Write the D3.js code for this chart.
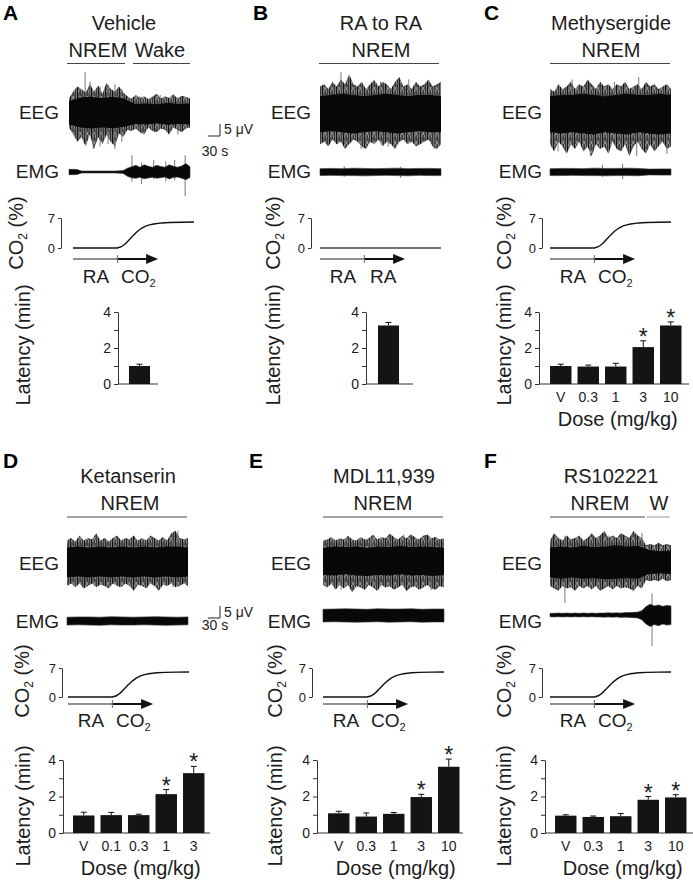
<!DOCTYPE html>
<html><head><meta charset="utf-8">
<script src="https://cdnjs.cloudflare.com/ajax/libs/d3/7.8.5/d3.min.js"></script>
<style>
html,body{margin:0;padding:0;background:#fff;}
svg{display:block;}
text{font-family:"Liberation Sans",Arial,Helvetica,sans-serif;fill:#1c1c1c;}
</style></head><body>
<svg id="fig" width="693" height="882">
  <defs>
    <pattern id="eegTex" width="7" height="9" patternUnits="userSpaceOnUse">
      <rect width="7" height="9" fill="#8c8c8c"/>
      <rect x="0" y="0" width="1" height="9" fill="#111"/>
      <rect x="1.4" y="2" width="0.8" height="7" fill="#3a3a3a"/>
      <rect x="2.6" y="0" width="1.1" height="6" fill="#1a1a1a"/>
      <rect x="4.1" y="3" width="0.7" height="6" fill="#444"/>
      <rect x="5.2" y="0" width="1" height="9" fill="#222"/>
    </pattern>
  </defs>
</svg>
<script>
// ================= DATA =================
const traceSeconds = [0, 300];
const switchTime = 110;          // RA -> CO2 switch (s)
const arrowEndTime = 211;
const co2Time = [0, 110, 120, 130, 140, 150, 160, 170, 180, 190, 200, 220, 240, 270, 300];
const co2Pct  = [0, 0, 0.3, 1.0, 2.0, 3.0, 3.9, 4.6, 5.1, 5.4, 5.6, 5.85, 5.95, 6.0, 6.05];
const co2TimeRA = [0, 300];
const co2PctRA  = [0, 0];
const co2Ticks = [0, 7];
const latencyTicks = [0, 1, 2, 3, 4];
const latencyTickLabels = ["0", "", "2", "", "4"];
const scaleBarUV = 5, scaleBarSec = 30;

// Latency (min): mean, SEM, significance
const doseA = ["V"];                       const latA = [1.0];  const semA = [0.10]; const sigA = [0];
const doseB = ["V"];                       const latB = [3.25]; const semB = [0.17]; const sigB = [0];
const doseC = ["V", "0.3", "1", "3", "10"]; const latC = [1.0, 0.97, 0.97, 2.05, 3.25]; const semC = [0.10, 0.08, 0.18, 0.35, 0.20]; const sigC = [0, 0, 0, 1, 1];
const doseD = ["V", "0.1", "0.3", "1", "3"]; const latD = [0.96, 0.98, 0.98, 2.13, 3.28]; const semD = [0.18, 0.15, 0.05, 0.25, 0.37]; const sigD = [0, 0, 0, 1, 1];
const doseE = ["V", "0.3", "1", "3", "10"]; const latE = [1.08, 0.90, 1.05, 1.97, 3.63]; const semE = [0.11, 0.20, 0.07, 0.15, 0.42]; const sigE = [0, 0, 0, 1, 1];
const doseF = ["V", "0.3", "1", "3", "10"]; const latF = [0.95, 0.88, 0.92, 1.82, 1.95]; const semF = [0.05, 0.05, 0.15, 0.18, 0.15]; const sigF = [0, 0, 0, 1, 1];

// EEG envelopes (µV), evenly spaced over the 300 s trace
const eegA_outTop = [6, 9, 11, 10, 8.5, 12, 9, 11.5, 8, 12.5, 10, 9, 11, 8.5, 7, 6, 7.5, 6.2, 7, 5.8, 6.8, 8, 6, 7, 6.3, 7.8, 6, 7.2, 6.8, 6];
const eegA_outBot = [6, 9, 12, 10, 14, 9, 15, 10, 13, 9, 12, 14, 8.5, 10, 7, 7.5, 6.5, 8, 9, 6, 7.5, 8, 6.5, 7, 9, 6, 7, 8, 6.5, 6];
const eegA_inTop  = [5.0, 6.5, 6.8, 6.2, 6.8, 6.0, 3.8, 4.0, 3.6, 4.2, 3.8, 4.0];
const eegA_inBot  = [4.8, 6.0, 6.5, 6.0, 6.4, 5.8, 4.6, 4.8, 4.4, 4.9, 4.6, 4.8];
const eegA_spikes = [[40, 17, 11], [52, 13, 8], [60, 9, 15], [77, 11, 14], [97, 10, 13], [114, 12, 15], [131, 10, 12], [176, 7, 8], [226, 7.5, 6.5], [270, 6.5, 9]];

const eegB_outTop = [11, 12, 10, 13, 11, 14, 12, 16, 12, 11, 13, 10, 12, 14, 11, 13, 12, 10, 13, 15, 11, 12, 10, 13, 11, 12, 14, 11, 12, 13];
const eegB_outBot = [13, 12, 14, 11, 13, 12, 15, 13, 11, 12, 14, 15, 12, 13, 11, 14, 12, 13, 15, 12, 11, 13, 12, 14, 13, 12, 11, 14, 15, 13];
const eegB_inTop  = [7, 7.5, 8, 7.5, 7, 7.5, 8, 7.5, 7, 7.5, 7.5, 7];
const eegB_inBot  = [8, 7.5, 8, 8.5, 8, 7.5, 8, 8.5, 8, 7.5, 8, 8];
const eegB_spikes = [[52, 17, 6], [102, 8, 15], [150, 13, 10], [169, 9, 14], [220, 14, 9], [283, 11, 15]];

const eegC_outTop = [10, 9, 12, 10, 11, 13, 10, 12, 11, 14, 12, 10, 13, 11, 12, 10, 12, 11, 13, 10, 11, 12, 10, 13, 11, 12, 10, 11, 12, 10];
const eegC_outBot = [13, 16, 12, 14, 17, 13, 15, 12, 16, 14, 18, 13, 15, 14, 17, 12, 15, 16, 13, 18, 14, 12, 15, 17, 13, 16, 14, 12, 15, 14];
const eegC_inTop  = [7, 7.5, 7.5, 8, 7.5, 7, 7.5, 8, 7.5, 7.5, 8, 7.5];
const eegC_inBot  = [8, 8.5, 8, 8.5, 9, 8, 8.5, 9, 8, 8.5, 9, 8.5];
const eegC_spikes = [[20, 8, 16], [55, 14, 9], [100, 9, 18], [160, 13, 11], [215, 10, 18], [220, 15, 8], [290, 11, 17]];

const eegD_outTop = [9, 10, 8.5, 11, 9, 10, 9.5, 12, 9, 10, 8.5, 10, 11, 9, 10, 9.5, 11, 9, 10, 9, 11, 10, 9, 10.5, 9, 12, 13, 10, 9.5, 10];
const eegD_outBot = [10, 9, 10.5, 9, 11, 10, 9, 10.5, 9.5, 10, 11, 9, 10, 10.5, 9, 10, 12, 9.5, 10, 11, 9, 10, 12, 9.5, 10, 9, 10.5, 10, 9, 10];
const eegD_inTop  = [6, 6.5, 6, 6.5, 6, 6.5, 6, 6.5, 6, 6.5, 6.5, 6];
const eegD_inBot  = [6.5, 6, 6.5, 6, 6.5, 6, 6.5, 6, 6.5, 6, 6.5, 6];
const eegD_spikes = [[20, 7, 10], [94, 10, 7], [150, 9, 8], [263, 8, 10.5], [275, 13, 6]];

const eegE_outTop = [8.5, 9, 10, 8.5, 9.5, 9, 10.5, 9, 8.5, 10, 9, 9.5, 11, 9, 10, 9.5, 11.5, 10, 9, 10.5, 9.5, 11, 10, 9, 10.5, 11, 9.5, 10, 9, 9.5];
const eegE_outBot = [10, 11, 9.5, 12, 10, 11.5, 10, 13, 10.5, 11, 12, 10, 11, 12.5, 10, 11, 10.5, 12, 11, 10, 12.5, 11, 10.5, 12, 11, 10, 11.5, 12, 10.5, 11];
const eegE_inTop  = [5.5, 6, 5.8, 6, 5.5, 6, 5.8, 6.2, 5.8, 6, 5.8, 5.5];
const eegE_inBot  = [5.8, 6, 5.5, 6, 6.2, 5.8, 6, 5.5, 6, 5.8, 6.2, 5.8];
const eegE_spikes = [[45, 8, 12], [120, 10, 9], [200, 11, 8], [268, 9, 12]];

const eegF_outTop = [9, 12, 10, 9, 11, 9.5, 10, 11, 9, 10, 12, 10, 11, 13, 10, 11, 10, 12, 11, 10, 13, 11, 10, 7, 7.5, 7, 8, 7, 7.5, 7];
const eegF_outBot = [10, 11, 12, 10, 11, 10.5, 12, 10, 11, 10, 11.5, 10, 12, 11, 10, 11.5, 10, 11, 10.5, 11, 12, 10, 11, 7.5, 8, 7.5, 8, 7, 8, 7.5];
const eegF_inTop  = [6, 6.5, 6, 6.8, 6.2, 6.5, 7, 6.5, 6.8, 5, 4.5, 4.8];
const eegF_inBot  = [6.5, 7, 6.5, 7, 6.8, 7.2, 7, 6.8, 7, 5, 4.8, 5];
const eegF_spikes = [[37, 11, 17], [100, 9, 10], [146, 11, 8], [228, 12, 9]];

// EMG envelopes (µV)
const emgA_top = [1.1, 1.1, 1.0, 0.4, 0.4, 0.4, 0.4, 0.4, 0.4, 0.4, 0.4, 0.4, 0.5, 0.6, 1.6, 2.2, 2.8, 2.0, 3.0, 2.4, 2.0, 2.8, 2.3, 2.0, 3.0, 2.4, 2.0, 2.5, 3.5, 2.2];
const emgA_bot = [1.1, 1.1, 1.0, 0.4, 0.4, 0.4, 0.4, 0.4, 0.4, 0.4, 0.4, 0.4, 0.5, 0.6, 1.8, 2.4, 2.6, 2.2, 2.8, 2.5, 2.2, 2.6, 2.4, 2.1, 2.9, 2.3, 2.1, 2.6, 3.2, 2.3];
const emgA_spikes = [[156, 7, 4], [180, 4, 5], [210, 5, 3], [240, 4.5, 4], [262, 5, 3.5], [288, 7, 10]];
const emgB_top = [1.4, 1.5, 1.4, 1.6, 1.5, 1.4, 1.5, 1.6, 1.4, 1.5, 1.5, 1.4];
const emgB_bot = [1.5, 1.4, 1.5, 1.5, 1.6, 1.5, 1.4, 1.5, 1.6, 1.4, 1.5, 1.5];
const emgB_spikes = [[60, 2.5, 2], [200, 2.2, 2.5]];
const emgC_top = [1.4, 1.5, 1.5, 1.4, 1.6, 1.5, 1.5, 1.6, 1.5, 1.2, 1.3, 1.3];
const emgC_bot = [1.5, 1.5, 1.4, 1.5, 1.5, 1.6, 1.5, 1.5, 1.6, 1.2, 1.3, 1.3];
const emgC_spikes = [[130, 3, 2], [180, 3.5, 3]];
const emgD_top = [1.6, 1.7, 1.7, 1.6, 1.8, 1.7, 1.6, 1.7, 1.8, 1.7, 1.6, 1.7];
const emgD_bot = [1.7, 1.6, 1.7, 1.8, 1.6, 1.7, 1.7, 1.6, 1.7, 1.8, 1.7, 1.6];
const emgD_spikes = [];
const emgE_top = [2.6, 2.7, 2.8, 2.7, 2.6, 2.8, 2.7, 2.7, 2.8, 2.6, 2.7, 2.7];
const emgE_bot = [2.7, 2.6, 2.7, 2.8, 2.7, 2.6, 2.8, 2.7, 2.6, 2.8, 2.7, 2.7];
const emgE_spikes = [];
const emgF_top = [0.7, 0.7, 0.8, 0.7, 0.8, 0.7, 0.8, 0.7, 0.8, 0.7, 0.8, 0.7, 0.8, 0.8, 0.9, 0.8, 0.9, 0.8, 1.0, 1.0, 1.1, 1.2, 1.8, 3.5, 4.5, 3.8, 4.2, 3.6, 4.0, 3.8];
const emgF_bot = [0.7, 0.8, 0.7, 0.8, 0.7, 0.8, 0.7, 0.8, 0.7, 0.8, 0.7, 0.8, 0.8, 0.9, 0.8, 0.9, 0.8, 1.0, 0.9, 1.0, 1.1, 1.2, 2.0, 3.8, 4.8, 4.0, 4.5, 3.8, 4.2, 4.0];
const emgF_spikes = [[253, 9, 13]];

// ================= LAYOUT =================
const K = 2.4;               // px per µV
const TW = 121;              // trace width px
const rows = [
  {letterY: 20, titleY: 30, stateY: 57, lineY: 63.5, eegLabelY: 119, emgLabelY: 178, co2Y0: 248, co2Y7: 218, co2LabelY: 233,
   arrowY: 259, raY: 283, barY0: 384, barY4: 312, tickLabelY: 402, doseY: 426, latLabelY: 345},
  {letterY: 468, titleY: 483, stateY: 510, lineY: 517, eegLabelY: 570, emgLabelY: 628, co2Y0: 697, co2Y7: 668, co2LabelY: 681,
   arrowY: 704, raY: 727, barY0: 833, barY4: 760, tickLabelY: 851, doseY: 875, latLabelY: 806}
];

const panels = [
  {letter: "A", row: 0, letterX: 3, title: "Vehicle", titleX: 124,
   states: [{label: "NREM", cx: 98, x0: 67, x1: 125}, {label: "Wake", cx: 160, x0: 133, x1: 190}],
   labelEnd: 59, x0: 69, cx0: 73, eegY: 113, emgY: 172, co2AxisX: 61, co2LabelX: 23, latLabelX: 30,
   band: [126, 153], barAxis: [118, 158], dose: doseA, lat: latA, sem: semA, sig: sigA, showDose: false, gas: "CO2",
   eeg: [eegA_outTop, eegA_outBot, eegA_inTop, eegA_inBot, eegA_spikes], emg: [emgA_top, emgA_bot, emgA_spikes], scaleBar: [220, 136, 134, 156]},
  {letter: "B", row: 0, letterX: 253, title: "RA to RA", titleX: 381,
   states: [{label: "NREM", cx: 381, x0: 319, x1: 439}],
   labelEnd: 311, x0: 320, cx0: 320, eegY: 113, emgY: 172, co2AxisX: 311, co2LabelX: 280, latLabelX: 280,
   band: [375, 402], barAxis: [366, 413], dose: doseB, lat: latB, sem: semB, sig: sigB, showDose: false, gas: "RA",
   eeg: [eegB_outTop, eegB_outBot, eegB_inTop, eegB_inBot, eegB_spikes], emg: [emgB_top, emgB_bot, emgB_spikes]},
  {letter: "C", row: 0, letterX: 484, title: "Methysergide", titleX: 611,
   states: [{label: "NREM", cx: 611, x0: 550, x1: 670}],
   labelEnd: 542, x0: 550, cx0: 550, eegY: 113, emgY: 172, co2AxisX: 542, co2LabelX: 511, latLabelX: 511,
   band: [547, 684.5], barAxis: [539, 689], dose: doseC, lat: latC, sem: semC, sig: sigC, showDose: true, gas: "CO2",
   eeg: [eegC_outTop, eegC_outBot, eegC_inTop, eegC_inBot, eegC_spikes], emg: [emgC_top, emgC_bot, emgC_spikes]},
  {letter: "D", row: 1, letterX: 3, title: "Ketanserin", titleX: 128,
   states: [{label: "NREM", cx: 130, x0: 67, x1: 187}],
   labelEnd: 59, x0: 67, cx0: 68, eegY: 562, emgY: 621, co2AxisX: 62, co2LabelX: 29, latLabelX: 30,
   band: [70, 207.5], barAxis: [63, 210], dose: doseD, lat: latD, sem: semD, sig: sigD, showDose: true, gas: "CO2",
   eeg: [eegD_outTop, eegD_outBot, eegD_inTop, eegD_inBot, eegD_spikes], emg: [emgD_top, emgD_bot, emgD_spikes], scaleBar: [220, 618, 617, 630]},
  {letter: "E", row: 1, letterX: 249, title: "MDL11,939", titleX: 384,
   states: [{label: "NREM", cx: 383, x0: 323, x1: 443}],
   labelEnd: 311, x0: 323, cx0: 323, eegY: 561, emgY: 615.5, co2AxisX: 312, co2LabelX: 282, latLabelX: 282,
   band: [325, 462.5], barAxis: [317, 463], dose: doseE, lat: latE, sem: semE, sig: sigE, showDose: true, gas: "CO2",
   eeg: [eegE_outTop, eegE_outBot, eegE_inTop, eegE_inBot, eegE_spikes], emg: [emgE_top, emgE_bot, emgE_spikes]},
  {letter: "F", row: 1, letterX: 484, title: "RS102221", titleX: 611,
   states: [{label: "NREM", cx: 600, x0: 550, x1: 645}, {label: "W", cx: 659, x0: 647, x1: 670, light: true}],
   labelEnd: 542, x0: 550, cx0: 550, eegY: 562, emgY: 615, co2AxisX: 542, co2LabelX: 511, latLabelX: 511,
   band: [552, 689.5], barAxis: [545, 693], dose: doseF, lat: latF, sem: semF, sig: sigF, showDose: true, gas: "CO2",
   eeg: [eegF_outTop, eegF_outBot, eegF_inTop, eegF_inBot, eegF_spikes], emg: [emgF_top, emgF_bot, emgF_spikes]}
];

// ================= DRAW =================
const svg = d3.select("#fig");

function text(g, x, y, s, size, anchor) {
  return g.append("text").attr("x", x).attr("y", y).attr("font-size", size)
    .attr("text-anchor", anchor || "start").text(s);
}

function envelope(top, bot) {
  const [t0, t1] = traceSeconds;
  return top.map((v, i) => ({t: t0 + i * (t1 - t0) / (top.length - 1), top: v, bot: bot[i]}));
}

function drawTrace(g, x, yc, outTop, outBot, inTop, inBot, spikes, isEmg) {
  const y = d3.scaleLinear().domain([-1, 1]).range([yc + K, yc - K]);
  const area = d3.area().x(d => x(d.t)).y0(d => y(-d.bot)).y1(d => y(d.top));
  if (outTop) g.append("path").attr("d", area(envelope(outTop, outBot))).attr("fill", "url(#eegTex)");
  g.selectAll(null).data(spikes || []).join("line")
    .attr("x1", d => x(d[0])).attr("x2", d => x(d[0]))
    .attr("y1", d => y(d[1])).attr("y2", d => y(-d[2]))
    .attr("stroke", "#6a6a6a").attr("stroke-width", 0.9);
  g.append("path").attr("d", area(envelope(inTop, inBot))).attr("fill", "#080808")
    .attr("stroke", isEmg ? "#333" : "none").attr("stroke-width", isEmg ? 0.6 : 0);
}

function drawPanel(p) {
  const r = rows[p.row];
  const g = svg.append("g");

  text(g, p.letterX, r.letterY, p.letter, 21).attr("font-weight", "bold").style("fill", "#000");
  text(g, p.titleX, r.titleY, p.title, 20, "middle");
  p.states.forEach(s => {
    text(g, s.cx, r.stateY, s.label, 20, "middle");
    g.append("line").attr("x1", s.x0).attr("x2", s.x1).attr("y1", r.lineY).attr("y2", r.lineY)
      .attr("stroke", s.light ? "#999" : "#444").attr("stroke-width", 1);
  });

  // EEG & EMG
  const x = d3.scaleLinear().domain(traceSeconds).range([p.x0, p.x0 + TW]);
  text(g, p.labelEnd, r.eegLabelY, "EEG", 19, "end");
  text(g, p.labelEnd, r.emgLabelY, "EMG", 19, "end");
  drawTrace(g, x, p.eegY, ...p.eeg, false);
  drawTrace(g, x, p.emgY, null, null, p.emg[0], p.emg[1], p.emg[2], true);

  if (p.scaleBar) {
    const [sx, sy, tY, sY] = p.scaleBar;
    const vLen = scaleBarUV * K;
    const hLen = x(scaleBarSec) - x(0);
    g.append("path").attr("d", `M${sx - hLen},${sy}H${sx}V${sy - vLen}`)
      .attr("fill", "none").attr("stroke", "#222").attr("stroke-width", 1);
    text(g, sx + 4, tY, scaleBarUV + " \u03bcV", 14);
    text(g, sx - hLen / 2 + 1, sY, scaleBarSec + " s", 14, "middle");
  }

  // CO2 panel
  const xc = d3.scaleLinear().domain(traceSeconds).range([p.cx0, p.cx0 + TW]);
  const yc = d3.scaleLinear().domain([0, 7]).range([r.co2Y0, r.co2Y7]);
  const ca = g.append("g").attr("transform", `translate(${p.co2AxisX},0)`)
    .call(d3.axisLeft(yc).tickValues(co2Ticks).tickFormat(d3.format("d")).tickSize(3).tickSizeOuter(0).tickPadding(3));
  ca.attr("font-size", 13).attr("font-family", null).attr("color", "#333");
  const cl = g.append("text").attr("font-size", 20).attr("text-anchor", "middle")
    .attr("transform", `translate(${p.co2LabelX},${r.co2LabelY}) rotate(-90)`);
  cl.append("tspan").text("CO");
  cl.append("tspan").attr("font-size", 12).attr("dy", 4).text("2");
  cl.append("tspan").attr("dy", -4).text(" (%)");

  const isRA = p.gas === "RA";
  const ct = isRA ? co2TimeRA : co2Time, cv = isRA ? co2PctRA : co2Pct;
  g.append("path").datum(ct.map((t, i) => [t, cv[i]]))
    .attr("d", d3.line().x(d => xc(d[0])).y(d => yc(d[1])))
    .attr("fill", "none").attr("stroke", isRA ? "#444" : "#111").attr("stroke-width", 1.4);

  // arrow
  const ay = r.arrowY;
  g.append("line").attr("x1", xc(0)).attr("x2", xc(switchTime)).attr("y1", ay).attr("y2", ay)
    .attr("stroke", "#222").attr("stroke-width", 1.1);
  g.append("line").attr("x1", xc(switchTime)).attr("x2", xc(arrowEndTime) - 8).attr("y1", ay).attr("y2", ay)
    .attr("stroke", "#111").attr("stroke-width", 2.2);
  const ae = xc(arrowEndTime);
  g.append("path").attr("d", `M${ae},${ay}L${ae - 12},${ay - 5}L${ae - 12},${ay + 5}Z`).attr("fill", "#111");
  g.append("line").attr("x1", xc(switchTime)).attr("x2", xc(switchTime)).attr("y1", ay - 4).attr("y2", ay + 4)
    .attr("stroke", "#666").attr("stroke-width", 1);
  text(g, xc(0) + 23, r.raY, "RA", 19, "middle");
  if (isRA) {
    text(g, xc(0) + 50, r.raY, "RA", 19);
  } else {
    const t2 = text(g, xc(0) + 48, r.raY, "CO", 19);
    t2.append("tspan").attr("font-size", 11).attr("dy", 4).text("2");
  }

  // Latency bar chart
  const y = d3.scaleLinear().domain([0, 4]).range([r.barY0, r.barY4]);
  const xb = d3.scaleBand().domain(p.dose).range(p.band).paddingInner(0.22).paddingOuter(0.11);
  const ya = g.append("g").attr("transform", `translate(${p.barAxis[0]},0)`)
    .call(d3.axisLeft(y).tickValues(latencyTicks).tickFormat((d, i) => latencyTickLabels[i])
      .tickSize(4).tickSizeOuter(0).tickPadding(3));
  ya.attr("font-size", 14).attr("font-family", null).attr("color", "#333");
  g.append("line").attr("x1", p.barAxis[0]).attr("x2", p.barAxis[1]).attr("y1", y(0)).attr("y2", y(0))
    .attr("stroke", "#333").attr("stroke-width", 1);

  const data = p.dose.map((d, i) => ({d, v: p.lat[i], e: p.sem[i], s: p.sig[i]}));
  const cx = d => xb(d.d) + xb.bandwidth() / 2;
  g.selectAll(null).data(data).join("line")
    .attr("x1", cx).attr("x2", cx).attr("y1", d => y(d.v)).attr("y2", d => y(d.v + d.e))
    .attr("stroke", "#111").attr("stroke-width", 1);
  g.selectAll(null).data(data).join("line")
    .attr("x1", d => cx(d) - 3).attr("x2", d => cx(d) + 3).attr("y1", d => y(d.v + d.e)).attr("y2", d => y(d.v + d.e))
    .attr("stroke", "#111").attr("stroke-width", 1);
  g.selectAll(null).data(data).join("rect")
    .attr("x", d => xb(d.d)).attr("width", xb.bandwidth())
    .attr("y", d => y(d.v)).attr("height", d => y(0) - y(d.v)).attr("fill", "#141414");
  g.selectAll(null).data(data.filter(d => d.s)).join("text")
    .attr("x", cx).attr("y", d => y(d.v + d.e) + 4).attr("text-anchor", "middle").attr("font-size", 23).text("*");

  g.append("text").attr("font-size", 20).attr("text-anchor", "middle")
    .attr("transform", `translate(${p.latLabelX},${r.latLabelY}) rotate(-90)`).text("Latency (min)");

  if (p.showDose) {
    g.selectAll(null).data(p.dose).join("text")
      .attr("x", d => xb(d) + xb.bandwidth() / 2).attr("y", r.tickLabelY)
      .attr("text-anchor", "middle").attr("font-size", 14).text(d => d);
    text(g, (p.band[0] + p.band[1]) / 2 + 2, r.doseY, "Dose (mg/kg)", 20, "middle");
  }
}

panels.forEach(drawPanel);
</script>
</body></html>
